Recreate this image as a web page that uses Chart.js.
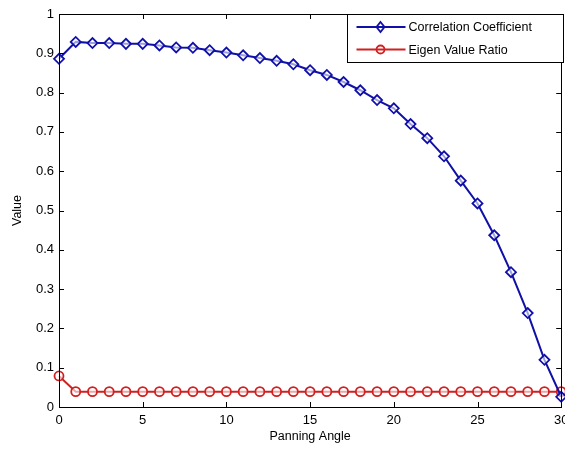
<!DOCTYPE html>
<html>
<head>
<meta charset="utf-8">
<script src="https://cdn.jsdelivr.net/npm/chart.js@4.4.0/dist/chart.umd.min.js"></script>
<style>
  html, body { margin: 0; padding: 0; background: #fff; overflow: hidden; }
  #wrap { width: 565px; height: 450px; overflow: hidden; }
</style>
</head>
<body>
<div id="wrap"><canvas id="chart" width="568" height="450"></canvas></div>
<script>
const angles = [0, 1, 2, 3, 4, 5, 6, 7, 8, 9, 10, 11, 12, 13, 14, 15,
    16, 17, 18, 19, 20, 21, 22, 23, 24, 25, 26, 27, 28, 29, 30];
const correlation = [0.886, 0.929, 0.926, 0.926, 0.924, 0.924, 0.920, 0.915, 0.914, 0.908,
    0.902, 0.895, 0.888, 0.881, 0.872, 0.857, 0.845, 0.827, 0.806, 0.781,
    0.760, 0.720, 0.684, 0.638, 0.576, 0.518, 0.437, 0.343, 0.239, 0.120, 0.026];
const eigenRatio = [0.079, 0.039, 0.039, 0.039, 0.039, 0.039, 0.039, 0.039, 0.039, 0.039,
    0.039, 0.039, 0.039, 0.039, 0.039, 0.039, 0.039, 0.039, 0.039, 0.039,
    0.039, 0.039, 0.039, 0.039, 0.039, 0.039, 0.039, 0.039, 0.039, 0.039, 0.039];
const seriesNames = ['Correlation Coefficient', 'Eigen Value Ratio'];

const blue = '#1010a8';
const red = '#d02020';
const fontFamily = '"Liberation Sans", Arial, sans-serif';

// matlab style box + inward ticks
const boxPlugin = {
    id: 'boxTicks',
    afterDatasetsDraw(chart) {
        const ctx = chart.ctx;
        const a = chart.chartArea;
        const xs = chart.scales.x, ys = chart.scales.y;
        ctx.save();
        ctx.strokeStyle = '#000';
        ctx.lineWidth = 1;
        ctx.beginPath();
        xs.ticks.forEach(t => {
            const px = Math.round(xs.getPixelForValue(t.value)) + 0.5;
            ctx.moveTo(px, a.bottom); ctx.lineTo(px, a.bottom - 5);
            ctx.moveTo(px, a.top); ctx.lineTo(px, a.top + 5);
        });
        ys.ticks.forEach(t => {
            const py = Math.round(ys.getPixelForValue(t.value)) + 0.5;
            ctx.moveTo(a.left, py); ctx.lineTo(a.left + 5, py);
            ctx.moveTo(a.right, py); ctx.lineTo(a.right - 5, py);
        });
        ctx.stroke();
        ctx.strokeRect(Math.round(a.left) + 0.5, Math.round(a.top) + 0.5,
            Math.round(a.right - a.left), Math.round(a.bottom - a.top));
        ctx.restore();
    },
    afterDraw(chart) {
        // legend box in the top right corner
        const ctx = chart.ctx;
        const a = chart.chartArea;
        const w = 216, h = 48;
        const x0 = Math.round(a.right) - w + 2.5, y0 = Math.round(a.top) + 0.5;
        ctx.save();
        ctx.fillStyle = '#fff';
        ctx.fillRect(x0, y0, w, h);
        ctx.strokeStyle = '#000';
        ctx.lineWidth = 1;
        ctx.strokeRect(x0, y0, w, h);
        ctx.font = '12.5px ' + fontFamily;
        ctx.textBaseline = 'middle';
        chart.data.datasets.forEach((ds, i) => {
            const cy = y0 + 12.5 + i * 22.5;
            ctx.strokeStyle = ds.borderColor;
            ctx.lineWidth = 2;
            ctx.beginPath();
            ctx.moveTo(x0 + 9, cy); ctx.lineTo(x0 + 58, cy);
            ctx.stroke();
            ctx.lineWidth = 1.8;
            ctx.beginPath();
            if (ds.pointStyle === 'rectRot') {
                ctx.moveTo(x0 + 33, cy - 5); ctx.lineTo(x0 + 37, cy);
                ctx.lineTo(x0 + 33, cy + 5); ctx.lineTo(x0 + 29, cy);
                ctx.closePath();
            } else {
                ctx.arc(x0 + 33, cy, 4, 0, Math.PI * 2);
            }
            ctx.stroke();
            ctx.fillStyle = '#000';
            ctx.fillText(ds.label, x0 + 61, cy + 1);
        });
        ctx.restore();
    }
};

new Chart(document.getElementById('chart'), {
    type: 'line',
    data: {
        labels: angles,
        datasets: [
            {
                label: seriesNames[0],
                data: angles.map((a, i) => ({ x: a, y: correlation[i] })),
                borderColor: blue,
                borderWidth: 2,
                pointStyle: 'rectRot',
                pointRadius: 5,
                pointBorderWidth: 1.8,
                pointBorderColor: blue,
                pointBackgroundColor: 'rgba(255,255,255,0.6)',
                tension: 0,
                clip: false
            },
            {
                label: seriesNames[1],
                data: angles.map((a, i) => ({ x: a, y: eigenRatio[i] })),
                borderColor: red,
                borderWidth: 2,
                pointStyle: 'circle',
                pointRadius: 4.5,
                pointBorderWidth: 1.8,
                pointBorderColor: red,
                pointBackgroundColor: 'rgba(255,255,255,0.6)',
                tension: 0,
                clip: false
            }
        ]
    },
    options: {
        responsive: false,
        animation: false,
        layout: { padding: { top: 14, right: 1, left: 0, bottom: 0 } },
        plugins: {
            legend: { display: false },
            tooltip: { enabled: false }
        },
        scales: {
            x: {
                type: 'linear',
                min: 0,
                max: 30,
                grid: { display: false, drawTicks: false },
                border: { display: false },
                afterFit(scale) {
                    scale.height = 43;
                    scale.paddingRight = 0;
                },
                ticks: {
                    stepSize: 5,
                    padding: 6,
                    color: '#000',
                    font: { family: fontFamily, size: 13 }
                },
                title: {
                    display: true,
                    text: 'Panning Angle',
                    color: '#000',
                    padding: { top: 0, bottom: 6 },
                    font: { family: fontFamily, size: 12.5 }
                }
            },
            y: {
                min: 0,
                max: 1,
                grid: { display: false, drawTicks: false },
                border: { display: false },
                afterFit(scale) { scale.width = 59; },
                ticks: {
                    stepSize: 0.1,
                    padding: 5,
                    color: '#000',
                    font: { family: fontFamily, size: 13 },
                    callback: v => (Math.round(v * 10) / 10).toString()
                },
                title: {
                    display: true,
                    text: 'Value',
                    color: '#000',
                    padding: { top: 10, bottom: 0 },
                    font: { family: fontFamily, size: 12.5 }
                }
            }
        }
    },
    plugins: [boxPlugin]
});
</script>
</body>
</html>
